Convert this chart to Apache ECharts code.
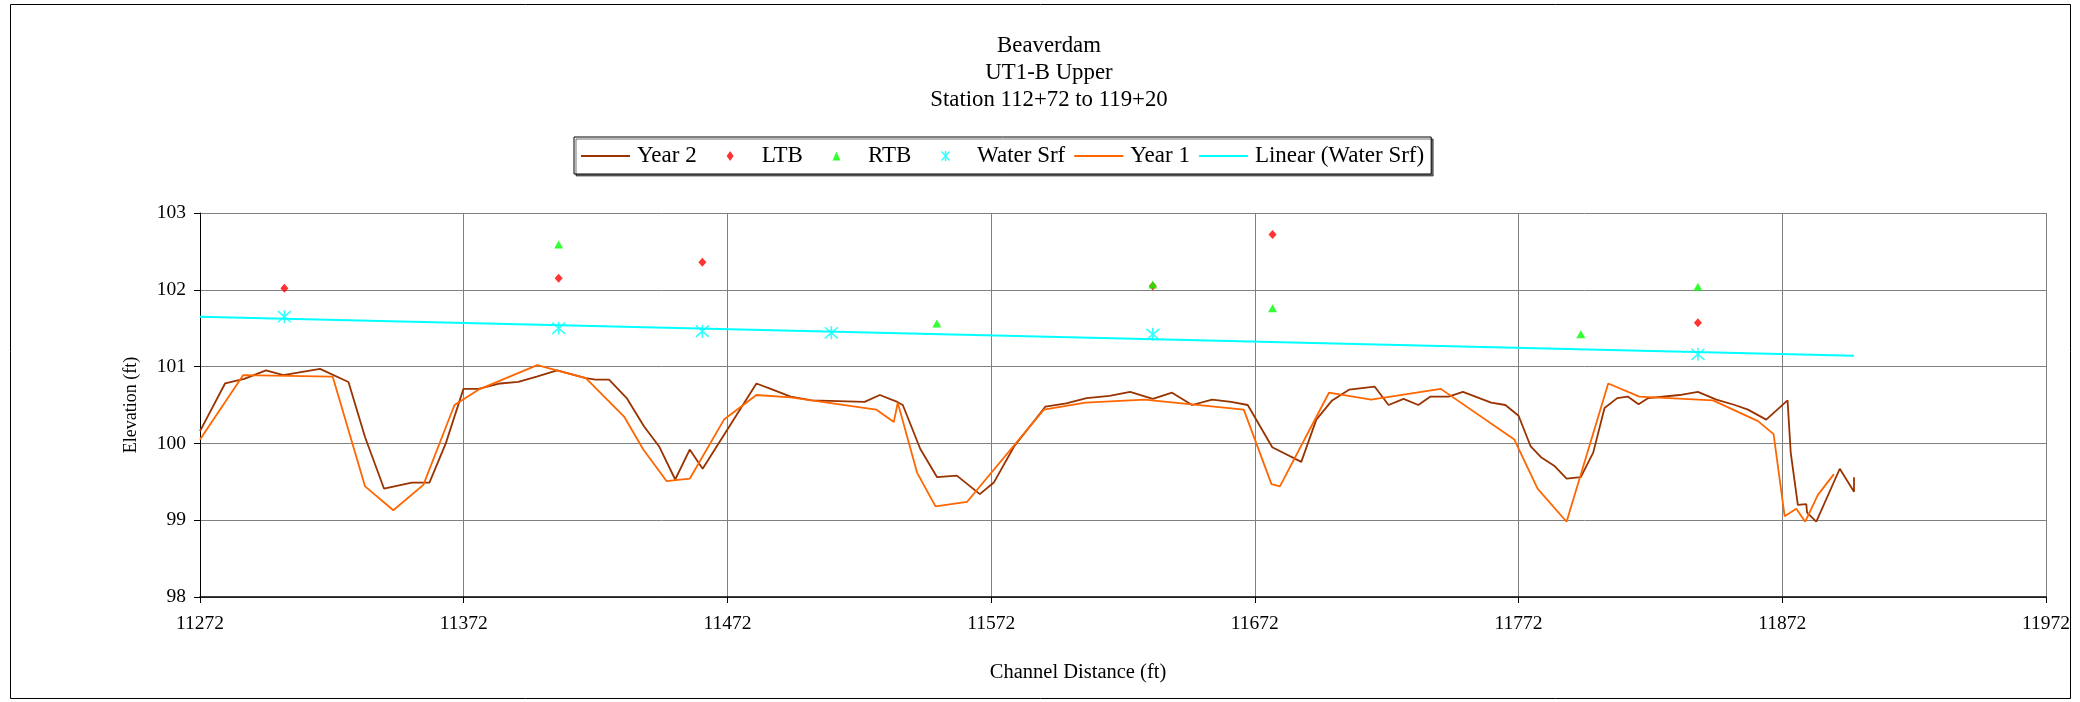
<!DOCTYPE html>
<html>
<head>
<meta charset="utf-8">
<script src="https://cdn.jsdelivr.net/npm/echarts@6/dist/echarts.min.js"></script>
<style>
html,body{margin:0;padding:0;background:#fff;}
#chart{width:2080px;height:702px;}
</style>
</head>
<body>
<div id="chart"></div>
<script>
// ---------- data ----------
const titleLines = ['Beaverdam', 'UT1-B Upper', 'Station 112+72 to 119+20'];
const xAxisTitle = 'Channel Distance (ft)';
const yAxisTitle = 'Elevation (ft)';
const xMin = 11272, xMax = 11972, xStep = 100;
const yMin = 98, yMax = 103, yStep = 1;

const year2Pts = [
  [11272,100.16],[11281.5,100.78],[11288.8,100.84],[11297,100.95],[11303.6,100.89],[11317.5,100.97],
  [11328.3,100.80],[11334.6,100.08],[11341.8,99.41],[11352.3,99.49],[11359,99.49],[11365.2,100.0],
  [11371.9,100.71],[11377.6,100.71],[11385.8,100.78],[11392.7,100.80],[11399.7,100.87],[11407.4,100.95],
  [11418.3,100.85],[11422,100.83],[11427.1,100.83],[11433.8,100.59],[11440.4,100.22],[11446.1,99.96],
  [11452.2,99.53],[11457.7,99.92],[11462.6,99.67],[11483,100.78],[11488.4,100.71],[11496,100.61],
  [11504,100.56],[11524,100.54],[11529.8,100.63],[11536.4,100.54],[11538.5,100.50],[11545.1,99.93],
  [11551.5,99.56],[11559,99.58],[11567.7,99.34],[11573,99.49],[11580.7,99.96],[11592.6,100.48],
  [11600.5,100.52],[11608.2,100.59],[11616.9,100.62],[11624.7,100.67],[11633.3,100.58],[11640.6,100.66],
  [11648.2,100.50],[11655.8,100.57],[11663,100.54],[11669.3,100.50],[11678.6,99.95],[11689.6,99.76],
  [11695.3,100.31],[11701.3,100.56],[11707.7,100.70],[11717.4,100.74],[11722.7,100.50],[11728.4,100.58],
  [11734,100.50],[11738.6,100.61],[11745.4,100.61],[11750.9,100.67],[11761.6,100.53],[11767,100.50],
  [11772,100.36],[11776.6,99.96],[11780.5,99.82],[11785.5,99.71],[11790.2,99.54],[11795.6,99.56],
  [11800.3,99.88],[11804.6,100.46],[11809.4,100.59],[11813.4,100.61],[11817.5,100.51],[11821.2,100.59],
  [11833,100.63],[11840,100.67],[11847,100.57],[11854,100.50],[11859,100.44],[11865.9,100.31],
  [11874,100.56],[11875.2,99.88],[11877.9,99.20],[11881.1,99.21],[11881.4,99.10],[11884.9,98.98],
  [11893.8,99.67],[11899.2,99.37],[11899.2,99.56]
];

const year1Pts = [
  [11272,100.05],[11288.4,100.89],[11322.3,100.87],[11334.6,99.44],[11345.3,99.13],[11356.7,99.46],
  [11368.5,100.50],[11377.6,100.70],[11399.9,101.02],[11418.3,100.85],[11432.8,100.35],[11440.1,99.92],
  [11448.9,99.51],[11457.7,99.54],[11470.7,100.31],[11483,100.63],[11496,100.60],[11528.4,100.44],
  [11535.1,100.28],[11536.6,100.53],[11543.9,99.62],[11550.9,99.18],[11562.9,99.24],[11592,100.44],
  [11607.8,100.53],[11630.2,100.57],[11667.8,100.44],[11678.3,99.47],[11681.5,99.44],[11700.1,100.66],
  [11716.1,100.57],[11742.5,100.71],[11770.4,100.05],[11779.2,99.41],[11790.2,98.98],[11806,100.78],
  [11817.8,100.61],[11845.7,100.56],[11862.8,100.29],[11868.7,100.12],[11872.9,99.05],[11877.3,99.15],
  [11880.7,98.98],[11885.5,99.33],[11891.6,99.60]
];

const ltbPts = [[11304,102.02],[11408,102.15],[11462.5,102.36],[11633.3,102.05],[11678.7,102.72],[11840,101.57]];
const rtbPts = [[11408,102.59],[11551.4,101.56],[11633.3,102.07],[11678.7,101.76],[11795.6,101.42],[11840,102.04]];
const waterPts = [[11304,101.65],[11408,101.50],[11462.5,101.46],[11511.4,101.44],[11633.3,101.42],[11840,101.16]];
const trendPts = [[11272,101.65],[11899.2,101.14]];

const seriesNames = ['Year 2', 'LTB', 'RTB', 'Water Srf', 'Year 1', 'Linear (Water Srf)'];
const seriesColors = ['#993300', '#ff0000', '#00ff00', '#00ffff', '#ff6600', '#00ffff'];

// ---------- chart ----------
const FONT = '"Liberation Serif", "Times New Roman", serif';
const chart = echarts.init(document.getElementById('chart'), null, {renderer: 'canvas'});
const asterisk = 'path://M0,0L12,12M12,0L0,12M6,-1L6,13';
// legend icons: all span a 49x10 box so they sit centred in the same item slot
const ends = 'M0,0L0,0M49,10L49,10';
const lineIcon = 'path://M0,4L49,4L49,6L0,6Z' + ends;
const diamondIcon = 'path://' + ends + 'M24.5,0L28,5L24.5,10L21,5Z';
const triangleIcon = 'path://' + ends + 'M24.5,0.5L28.5,9.5L20.5,9.5Z';
const asteriskIcon = 'path://' + ends + 'M20.5,0.5L28.5,9.5M28.5,0.5L20.5,9.5M24.5,0L24.5,10';

const legendIcons = [lineIcon, diamondIcon, triangleIcon, asteriskIcon, lineIcon, lineIcon];
const legendData = seriesNames.map((n, i) => ({
  name: n,
  icon: legendIcons[i],
  itemStyle: i === 3
    ? {color: 'rgba(0,0,0,0)', borderColor: seriesColors[i], borderWidth: 1.5}
    : {color: seriesColors[i], borderWidth: 0}
}));

chart.setOption({
  animation: false,
  backgroundColor: '#ffffff',
  graphic: [{
    type: 'rect',
    shape: {x: 10.5, y: 4.5, width: 2060, height: 694},
    style: {fill: 'none', stroke: '#000', lineWidth: 1},
    silent: true
  }],
  title: [{
    text: titleLines.join('\n'),
    left: 1049, top: 33, padding: 0,
    textAlign: 'center',
    textStyle: {fontFamily: FONT, fontSize: 22.8, fontWeight: 'normal', color: '#000', lineHeight: 27}
  }, {
    text: xAxisTitle,
    left: 1078, top: 660.5, padding: 0,
    textAlign: 'center',
    textStyle: {fontFamily: FONT, fontSize: 20.5, fontWeight: 'normal', color: '#000', lineHeight: 24}
  }],
  legend: {
    data: legendData,
    left: 574, top: 137,
    orient: 'horizontal',
    itemWidth: 49, itemHeight: 10, itemGap: 9,
    symbolKeepAspect: true,
    padding: [7, 7, 6, 7],
    borderColor: '#000', borderWidth: 1,
    backgroundColor: '#fff',
    shadowColor: 'rgba(0,0,0,0.55)', shadowOffsetX: 2, shadowOffsetY: 2, shadowBlur: 0,
    textStyle: {fontFamily: FONT, fontSize: 23, color: '#000', lineHeight: 24, padding: [0, 0, 0, 2]},
    selectedMode: false
  },
  grid: {left: 200, top: 213, right: 34, bottom: 105, containLabel: false},
  xAxis: {
    type: 'value', min: xMin, max: xMax, interval: xStep,
    axisLine: {show: true, lineStyle: {color: '#000', width: 1.5}},
    axisTick: {show: true, length: 6, lineStyle: {color: '#000'}},
    axisLabel: {fontFamily: FONT, fontSize: 19.5, color: '#000', margin: 17,
                formatter: v => String(v)},
    splitLine: {show: true, lineStyle: {color: '#808080', width: 1}}
  },
  yAxis: {
    type: 'value', min: yMin, max: yMax, interval: yStep,
    name: yAxisTitle, nameLocation: 'middle', nameGap: 60,
    nameTextStyle: {fontFamily: FONT, fontSize: 18, color: '#000'},
    axisLine: {show: true, lineStyle: {color: '#000', width: 1}},
    axisTick: {show: true, length: 6, lineStyle: {color: '#000'}},
    axisLabel: {fontFamily: FONT, fontSize: 19.5, color: '#000', margin: 14,
                formatter: v => String(v)},
    splitLine: {show: true, lineStyle: {color: '#808080', width: 1}}
  },
  series: [
    {name: seriesNames[0], type: 'line', data: year2Pts, symbol: 'none',
     lineStyle: {color: seriesColors[0], width: 1.8}, itemStyle: {color: seriesColors[0]}},
    {name: seriesNames[1], type: 'scatter', data: ltbPts, symbol: 'diamond', symbolSize: [8, 9],
     itemStyle: {color: seriesColors[1]}},
    {name: seriesNames[2], type: 'scatter', data: rtbPts, symbol: 'triangle', symbolSize: [9, 8],
     itemStyle: {color: seriesColors[2]}},
    {name: seriesNames[3], type: 'scatter', data: waterPts, symbol: asterisk, symbolSize: 13,
     itemStyle: {color: 'rgba(0,0,0,0)', borderColor: seriesColors[3], borderWidth: 1.6}},
    {name: seriesNames[4], type: 'line', data: year1Pts, symbol: 'none',
     lineStyle: {color: seriesColors[4], width: 1.8}, itemStyle: {color: seriesColors[4]}},
    {name: seriesNames[5], type: 'line', data: trendPts, symbol: 'none',
     lineStyle: {color: seriesColors[5], width: 2}, itemStyle: {color: seriesColors[5]}}
  ]
});
</script>
</body>
</html>
